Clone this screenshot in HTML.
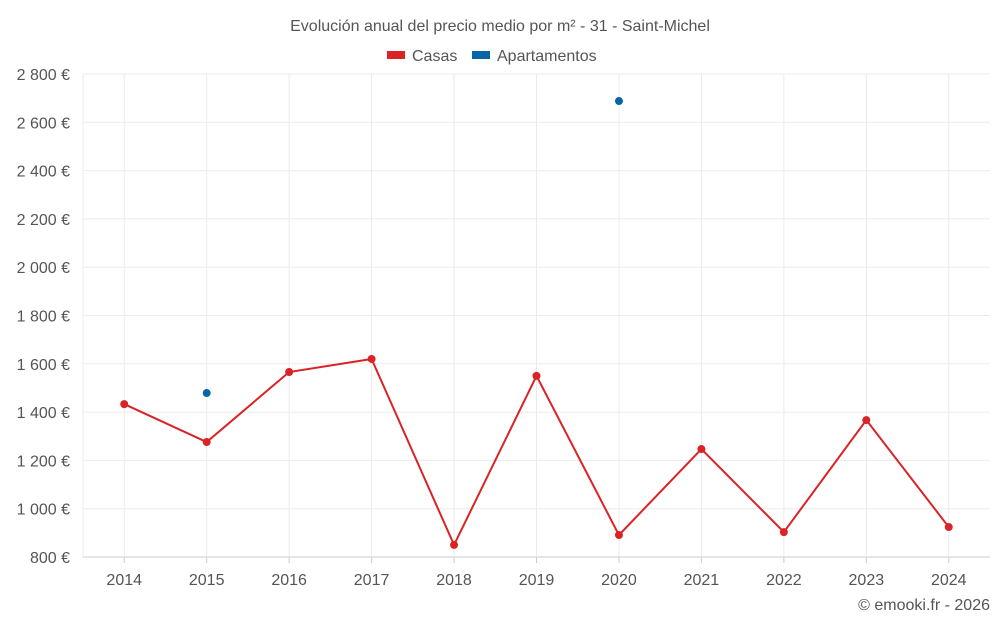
<!DOCTYPE html>
<html><head><meta charset="utf-8"><style>
body{margin:0;background:#fff;font-family:"Liberation Sans",sans-serif;}
svg text{font-family:"Liberation Sans",sans-serif;}
</style></head><body>
<svg id="chart" width="1000" height="625" xmlns="http://www.w3.org/2000/svg">
<text x="500" y="31" text-anchor="middle" font-size="16" fill="#555">Evolución anual del precio medio por m² - 31 - Saint-Michel</text>
<g><rect x="387" y="51" width="18" height="8" fill="#d92326"/><text x="412" y="61" font-size="16" fill="#555">Casas</text></g>
<g><rect x="472" y="51" width="18" height="8" fill="#0565a6"/><text x="497" y="61" font-size="16" fill="#555">Apartamentos</text></g>
<g id="grid"></g><g id="axes"></g><g id="marks"></g>
<text x="990" y="610" text-anchor="end" font-size="16" fill="#555">© emooki.fr - 2026</text>
</svg>
<script>
const years=[2014,2015,2016,2017,2018,2019,2020,2021,2022,2023,2024];
const casas=[1433,1276,1566,1620,850,1550,891,1247,903,1367,924];
const apartamentos=[null,1479,null,null,null,null,2688,null,null,null,null];
const yTicks=[800,1000,1200,1400,1600,1800,2000,2200,2400,2600,2800];
const yTickLabels=["800 €","1 000 €","1 200 €","1 400 €","1 600 €","1 800 €","2 000 €","2 200 €","2 400 €","2 600 €","2 800 €"];
const NS="http://www.w3.org/2000/svg";
const L=83,R=990,T=74,B=557,yMin=800,yMax=2800;
const step=(R-L)/years.length;
function xs(i){return L+step*(i+0.5);}
function ys(v){return B-(v-yMin)/(yMax-yMin)*(B-T);}
function mk(tag,attrs,parent){const e=document.createElementNS(NS,tag);for(const k in attrs)e.setAttribute(k,attrs[k]);document.getElementById(parent).appendChild(e);return e;}
yTicks.forEach((v,i)=>{
 const g=mk('line',{x1:L,x2:R,y1:ys(v),y2:ys(v),stroke:i===0?'#ccc':'#ebebeb'},'grid');
 
 
 const t=mk('text',{x:70,y:ys(v)+6,'text-anchor':'end','font-size':16,fill:'#555'},'axes');
 t.textContent=yTickLabels[i];
 
 
});
const lb=mk('line',{x1:L,x2:L,y1:T,y2:B,stroke:'#ebebeb'},'grid');


years.forEach((y,i)=>{
 const g=mk('line',{x1:xs(i),x2:xs(i),y1:T,y2:B,stroke:'#ebebeb'},'grid');
 
 
 const tk=mk('line',{x1:xs(i),x2:xs(i),y1:B,y2:B+6,stroke:'#ccc'},'axes');
 
 
 const t=mk('text',{x:xs(i),y:585,'text-anchor':'middle','font-size':16,fill:'#555'},'axes');
 t.textContent=y;
 
 
});
const pts=casas.map((v,i)=>xs(i)+','+ys(v)).join(' ');
const line=mk('polyline',{points:pts,fill:'none',stroke:'#d92326','stroke-width':2},'marks');


casas.forEach((v,i)=>{
 const c=mk('circle',{cx:xs(i),cy:ys(v),r:4,fill:'#d92326'},'marks');
 
 
});
apartamentos.forEach((v,i)=>{
 if(v==null)return;
 const c=mk('circle',{cx:xs(i),cy:ys(v),r:4,fill:'#0565a6'},'marks');
 
 
});
</script>
</body></html>
